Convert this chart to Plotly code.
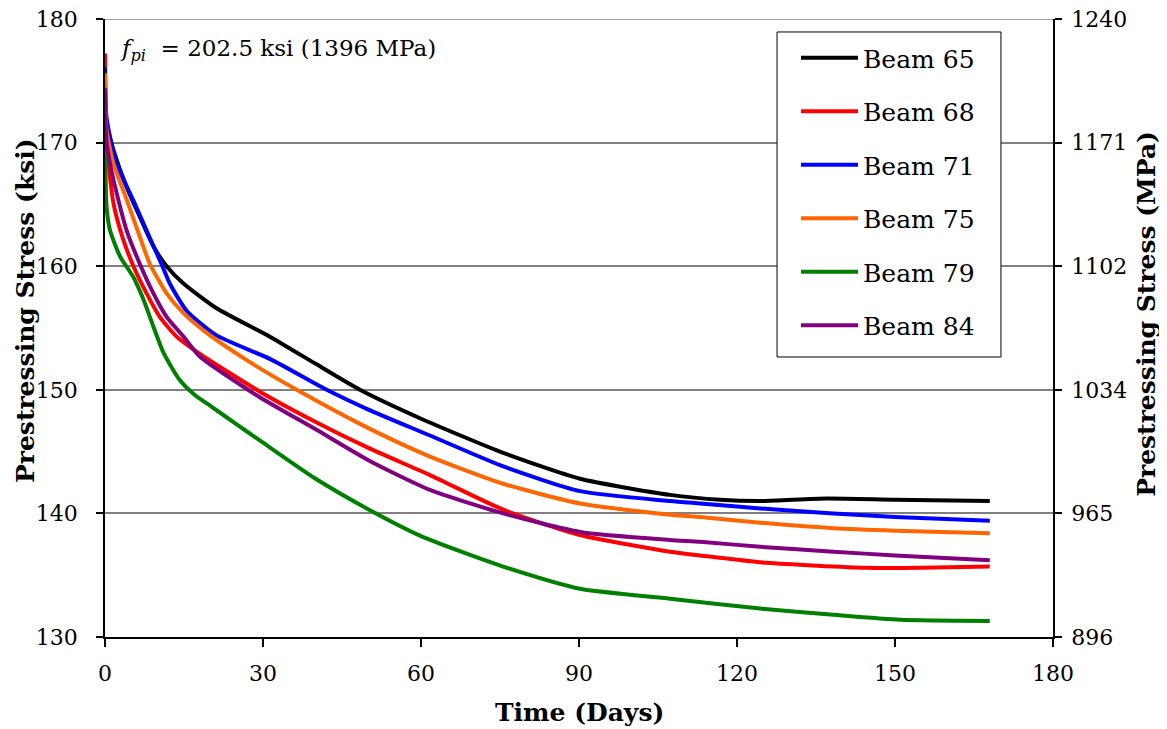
import plotly.graph_objects as go

# ---- data ----
beam65_days = [0, 0.3, 1.6, 4.1, 6.6, 9.2, 11.7, 14.9, 21.2, 31.3, 40, 48.4, 59.8, 75.6, 90.2, 107.3, 116.8, 124.4, 137, 150, 168]
beam65_ksi = [173.5, 171.5, 169.4, 166.4, 164.0, 161.6, 160.0, 158.6, 156.6, 154.3, 152.1, 150.0, 147.7, 144.9, 142.8, 141.5, 141.1, 141.0, 141.2, 141.1, 141.0]

beam68_days = [0, 0.3, 1.6, 3.5, 5.4, 7.9, 10.4, 13.6, 18, 29.4, 40, 50, 61.7, 75.6, 90.2, 107.3, 113, 125.6, 144.6, 155, 168]
beam68_ksi = [177.2, 170.0, 165.1, 162.1, 160.0, 157.8, 155.9, 154.3, 152.9, 149.85, 147.4, 145.3, 143.1, 140.3, 138.25, 136.9, 136.6, 136.0, 135.6, 135.6, 135.7]

beam71_days = [0, 0.3, 2.2, 5.4, 8.5, 10.8, 12.3, 15.5, 21.2, 31.3, 42.1, 50, 61.7, 75.6, 90.2, 107.3, 113, 124.4, 138.3, 150, 168]
beam71_ksi = [176.1, 172.0, 168.3, 165.3, 162.3, 160.1, 158.6, 156.4, 154.4, 152.5, 150.0, 148.4, 146.3, 143.8, 141.8, 141.0, 140.8, 140.4, 140.0, 139.7, 139.4]

beam75_days = [0, 0.3, 1.6, 4.1, 6.6, 8.5, 11.7, 14.9, 19.3, 26.9, 36.4, 50, 61.7, 75.6, 90.2, 107.3, 113, 124.4, 138.3, 150, 168]
beam75_ksi = [175.6, 171.0, 168.3, 165.4, 162.4, 160.2, 157.8, 156.2, 154.6, 152.4, 150.0, 146.9, 144.6, 142.4, 140.8, 139.9, 139.7, 139.25, 138.8, 138.6, 138.4]

beam79_days = [0, 0.3, 0.95, 2.85, 5.4, 7.3, 9.2, 11.1, 14, 17, 20, 25, 29.4, 40, 49.7, 59.8, 67, 75.6, 90.2, 107.3, 124.4, 138.3, 151, 168]
beam79_ksi = [170.5, 164.8, 162.9, 160.8, 159.1, 157.3, 155.1, 153.0, 150.9, 149.6, 148.7, 147.2, 145.9, 142.8, 140.4, 138.2, 137.0, 135.7, 133.9, 133.1, 132.3, 131.8, 131.4, 131.3]

beam84_days = [0, 0.3, 1.6, 4.1, 6.6, 9.2, 11.7, 14.9, 18, 29.4, 40, 50, 61.7, 75.6, 90.2, 107.3, 113, 124.4, 138.3, 150, 168]
beam84_ksi = [174.4, 170.0, 167.0, 162.9, 160.2, 157.8, 155.9, 154.3, 152.7, 149.4, 146.8, 144.3, 141.9, 140.0, 138.5, 137.85, 137.7, 137.3, 136.9, 136.6, 136.2]

series_names = ["Beam 65", "Beam 68", "Beam 71", "Beam 75", "Beam 79", "Beam 84"]
series_days = [beam65_days, beam68_days, beam71_days, beam75_days, beam79_days, beam84_days]
series_ksi = [beam65_ksi, beam68_ksi, beam71_ksi, beam75_ksi, beam79_ksi, beam84_ksi]
series_colors = ["#000000", "#FF0000", "#0000FF", "#FF6600", "#008000", "#800080"]

day_ticks = [0, 30, 60, 90, 120, 150, 180]
ksi_ticks = [130, 140, 150, 160, 170, 180]
mpa_labels = ["896", "965", "1034", "1102", "1171", "1240"]

FONT = "DejaVu Serif"

fig = go.Figure()
for name, xs, ys, col in zip(series_names, series_days, series_ksi, series_colors):
    fig.add_trace(go.Scatter(
        x=xs, y=ys, name=name, mode="lines",
        line=dict(color=col, width=4, shape="spline", smoothing=0.6),
        legendgroup=name,
    ))

# invisible trace to carry the secondary (MPa) axis
fig.add_trace(go.Scatter(x=[day_ticks[0]], y=[ksi_ticks[0]], yaxis="y2", mode="markers",
                         marker=dict(opacity=0), showlegend=False, hoverinfo="skip"))

axis_common = dict(showline=True, linecolor="black", linewidth=1.5, zeroline=False,
                   ticks="outside", tickcolor="black", tickwidth=1.5, automargin=False,
                   ticklabeloverflow="allow",
                   tickfont=dict(family=FONT, size=22, color="black"))

fig.update_layout(
    width=1167, height=729,
    margin=dict(l=97, r=122, t=11, b=100, autoexpand=False),
    paper_bgcolor="white", plot_bgcolor="white",
    font=dict(family=FONT, size=22, color="black"),
    showlegend=True,
    legend=dict(
        x=0.7289, y=0.974, xanchor="left", yanchor="top",
        bgcolor="rgba(0,0,0,0)", borderwidth=0,
        font=dict(family=FONT, size=25, color="black"),
        tracegroupgap=18, itemwidth=57,
    ),
    xaxis=dict(range=[0, 180], tickmode="array", tickvals=day_ticks, showgrid=False,
               ticklen=8, ticklabelstandoff=8, **axis_common),
    yaxis=dict(range=[130, 180], tickmode="array", tickvals=ksi_ticks,
               showgrid=True, gridcolor="#808080", gridwidth=1.5,
               ticklen=7, ticklabelstandoff=14, **axis_common),
    yaxis2=dict(overlaying="y", side="right", range=[130, 180],
                tickmode="array", tickvals=ksi_ticks, ticktext=mpa_labels, showgrid=False,
                ticklen=7, ticklabelstandoff=5, **axis_common),
    shapes=[
        # top gridline at the upper end of the ksi axis
        dict(type="line", xref="paper", yref="y", x0=0, x1=1, y0=ksi_ticks[-1], y1=ksi_ticks[-1],
             line=dict(color="#808080", width=1.5), layer="below"),
        # legend frame
        dict(type="rect", xref="paper", yref="paper", x0=0.7089, x1=0.9451, y0=0.4531, y1=0.979,
             line=dict(color="black", width=1), fillcolor="white", layer="above"),
    ],
    annotations=[
        dict(xref="paper", yref="paper", x=0.014, y=0.977, xanchor="left", yanchor="top",
             text="<i>f</i><sub><i>pi</i></sub>  = 202.5 ksi (1396 MPa)", showarrow=False,
             font=dict(family=FONT, size=23, color="black")),
        dict(xref="paper", yref="paper", x=0.5, y=-0.1214, xanchor="center", yanchor="middle",
             text="<b>Time (Days)</b>", showarrow=False,
             font=dict(family=FONT, size=25, color="black")),
        dict(xref="paper", yref="paper", x=-0.0844, y=0.529, xanchor="center", yanchor="middle",
             text="<b>Prestressing Stress (ksi)</b>", showarrow=False, textangle=-90,
             font=dict(family=FONT, size=25, color="black")),
        dict(xref="paper", yref="paper", x=1.0992, y=0.523, xanchor="center", yanchor="middle",
             text="<b>Prestressing Stress (MPa)</b>", showarrow=False, textangle=-90,
             font=dict(family=FONT, size=25, color="black")),
    ],
)

fig.write_html("out.html")
